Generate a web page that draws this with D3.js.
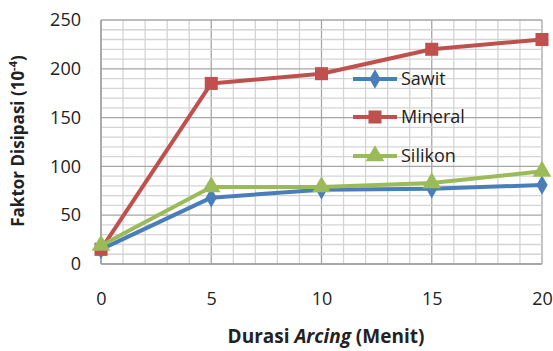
<!DOCTYPE html>
<html><head><meta charset="utf-8">
<script src="https://cdn.jsdelivr.net/npm/d3@7/dist/d3.min.js"></script>
<style>body{margin:0;background:#fff}svg{display:block}</style>
</head><body>
<script>
const durations = [0, 5, 10, 15, 20];
const sawit = [15, 68, 76, 77, 81];
const mineral = [15, 185, 195, 220, 230];
const silikon = [19, 79, 79, 83, 95];
const seriesNames = ["Sawit", "Mineral", "Silikon"];
const yTicks = [0, 50, 100, 150, 200, 250];
const xTicks = [0, 5, 10, 15, 20];

const W = 553, H = 351;
const m = {left: 101, top: 20, right: 542, bottom: 264};
const svg = d3.select("body").append("svg").attr("width", W).attr("height", H);
const font = "'Open Sans', sans-serif";

const x = d3.scaleLinear().domain([0, 20]).range([m.left, m.right]);
const y = d3.scaleLinear().domain([0, 250]).range([m.bottom, m.top]);

// grid
const g = svg.append("g");
g.selectAll(".vmin").data(d3.range(0, 21, 1)).join("line")
  .attr("x1", d => x(d)).attr("x2", d => x(d)).attr("y1", m.top).attr("y2", m.bottom)
  .attr("stroke", d => d % 5 === 0 ? "#a6a6a6" : "#d4d4d4").attr("stroke-width", 1.3);
g.selectAll(".hmin").data(d3.range(0, 251, 10)).join("line")
  .attr("y1", d => y(d)).attr("y2", d => y(d)).attr("x1", m.left).attr("x2", m.right)
  .attr("stroke", d => d % 50 === 0 ? "#a6a6a6" : "#d4d4d4").attr("stroke-width", 1.3);
// axes lines
svg.append("line").attr("x1", m.left).attr("x2", m.left).attr("y1", m.top).attr("y2", m.bottom).attr("stroke", "#a0a0a0").attr("stroke-width", 1.5);
svg.append("line").attr("x1", m.left).attr("x2", m.right).attr("y1", m.bottom).attr("y2", m.bottom).attr("stroke", "#a0a0a0").attr("stroke-width", 1.5);

// axis labels
const yAxis = svg.append("g").attr("transform", `translate(${m.left - 20},0)`)
  .call(d3.axisLeft(y).tickValues(yTicks).tickSize(0).tickPadding(0));
yAxis.select(".domain").remove();
yAxis.selectAll("text").attr("font-family", font).attr("font-size", 18).attr("fill", "#222");
const xAxis = svg.append("g").attr("transform", `translate(0,${m.bottom + 28})`)
  .call(d3.axisBottom(x).tickValues(xTicks).tickSize(0).tickPadding(0));
xAxis.select(".domain").remove();
xAxis.selectAll("text").attr("font-family", font).attr("font-size", 18).attr("fill", "#222");

// titles
const xt = svg.append("text").attr("x", 326).attr("y", 343).attr("text-anchor", "middle")
  .attr("font-family", font).attr("font-size", 19).attr("font-weight", "bold").attr("fill", "#222");
xt.append("tspan").text("Durasi ");
xt.append("tspan").attr("font-style", "italic").text("Arcing");
xt.append("tspan").text(" (Menit)");

const yt = svg.append("text").attr("transform", "translate(24,141) rotate(-90)").attr("text-anchor", "middle")
  .attr("font-family", font).attr("font-size", 17).attr("font-weight", "bold").attr("fill", "#222");
yt.append("tspan").text("Faktor Disipasi (10");
yt.append("tspan").attr("dy", -7).attr("font-size", 11).text("-4");
yt.append("tspan").attr("dy", 7).text(")");

const colors = {Sawit: "#4a7ebb", Mineral: "#c0504d", Silikon: "#9bbb59"};
const data = {Sawit: sawit, Mineral: mineral, Silikon: silikon};
const symbols = {Sawit: d3.symbolDiamond, Mineral: d3.symbolSquare, Silikon: d3.symbolTriangle};
const sizes = {Sawit: 110, Mineral: 170, Silikon: 150};

const line = d3.line().x((d, i) => x(durations[i])).y(d => y(d));
seriesNames.forEach(name => {
  svg.append("path").datum(data[name]).attr("d", line).attr("fill", "none")
    .attr("stroke", colors[name]).attr("stroke-width", 4).attr("stroke-linejoin", "round");
  svg.selectAll(".mk-" + name).data(data[name]).join("path")
    .attr("transform", (d, i) => `translate(${x(durations[i])},${y(d)})`)
    .attr("d", d3.symbol().type(symbols[name]).size(sizes[name])).attr("fill", colors[name]);
});

// legend
const legY = [79, 117, 156];
seriesNames.forEach((name, i) => {
  const lg = svg.append("g").attr("transform", `translate(0,${legY[i]})`);
  lg.append("line").attr("x1", 353).attr("x2", 397).attr("y1", 0).attr("y2", 0)
    .attr("stroke", colors[name]).attr("stroke-width", 4);
  lg.append("path").attr("transform", "translate(375,0)")
    .attr("d", d3.symbol().type(symbols[name]).size(sizes[name])).attr("fill", colors[name]);
  lg.append("text").attr("x", 401).attr("y", 6).attr("font-family", font).attr("font-size", 18)
    .attr("fill", "#222").text(name);
});
</script>
</body></html>
